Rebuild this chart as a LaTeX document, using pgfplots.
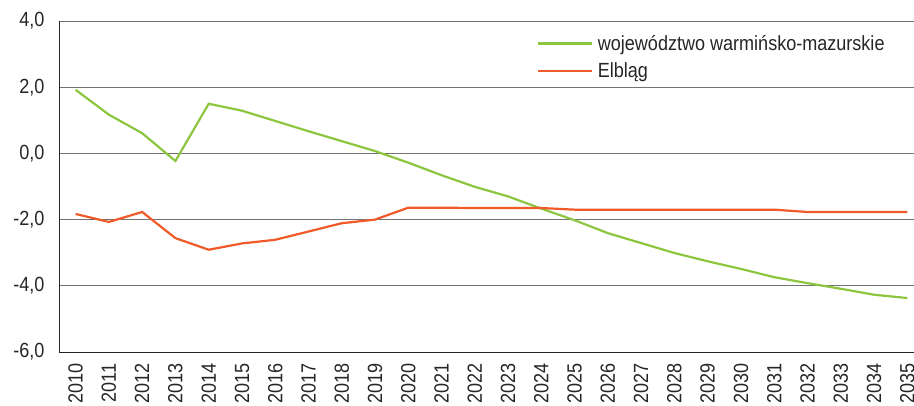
\documentclass[border=0pt]{standalone}
\usepackage{pgfplots}
\pgfplotsset{compat=1.18}
\usepackage{fontspec}
\setmainfont{Liberation Sans}[FakeStretch=0.88]
\definecolor{zielony}{HTML}{8CC63F}
\definecolor{pomarancz}{HTML}{F05A28}
\begin{document}
\begin{tikzpicture}
\begin{axis}[
    scale only axis,
    width=855pt,
    height=331pt,
    xmin=2009.5, xmax=2035.2,
    ymin=-6, ymax=4,
    ytick={-6,-4,...,4},
    xtick={2010,...,2035},
    axis x line=bottom,
    axis y line=left,
    axis line style={black!85, line width=0.9pt, -},
    ymajorgrids,
    grid style={black!55, line width=0.9pt},
    major tick length=0pt,
    tick label style={font=\fontsize{20.5}{22}\selectfont, black!85},
    x tick label style={rotate=90, anchor=east},
    xticklabel shift=8pt,
    yticklabel shift=11pt,
    xticklabel={\pgfmathprintnumber[1000 sep={}]{\tick}},
    yticklabel style={/pgf/number format/.cd, fixed, fixed zerofill, precision=1, use comma},
    /pgf/number format/assume math mode=true,
    legend style={draw=none, fill=none, at={(0.555,0.97)}, anchor=north west,
        font=\fontsize{20.5}{22}\selectfont, text=black!85, row sep=7pt,
        nodes={inner xsep=5pt}},
    legend cell align=left,
    legend image post style={xscale=3.16},
    every axis plot/.append style={line width=2.2pt},
]
\addplot[color=zielony] coordinates {
    (2010, 1.92) (2011, 1.17) (2012, 0.61) (2013, -0.23) (2014, 1.50)
    (2015, 1.29) (2016, 0.98) (2017, 0.67) (2018, 0.37) (2019, 0.07)
    (2020, -0.28) (2021, -0.66) (2022, -1.01) (2023, -1.30) (2024, -1.67)
    (2025, -2.02) (2026, -2.41) (2027, -2.71) (2028, -3.01) (2029, -3.26)
    (2030, -3.49) (2031, -3.74) (2032, -3.92) (2033, -4.09) (2034, -4.27)
    (2035, -4.37)
};
\addlegendentry{województwo warmińsko-mazurskie}
\addplot[color=pomarancz] coordinates {
    (2010, -1.83) (2011, -2.07) (2012, -1.77) (2013, -2.56) (2014, -2.91)
    (2015, -2.72) (2016, -2.61) (2017, -2.36) (2018, -2.11) (2019, -2.00)
    (2020, -1.64) (2021, -1.64) (2022, -1.65) (2023, -1.65) (2024, -1.65)
    (2025, -1.70) (2026, -1.70) (2027, -1.70) (2028, -1.70) (2029, -1.70)
    (2030, -1.70) (2031, -1.70) (2032, -1.77) (2033, -1.77) (2034, -1.77)
    (2035, -1.77)
};
\addlegendentry{Elbląg}
\end{axis}
\pgfresetboundingbox
\path ([shift={(-59pt,-54pt)}]current axis.south west) rectangle ([shift={(0pt,21pt)}]current axis.north east);
\end{tikzpicture}
\end{document}
